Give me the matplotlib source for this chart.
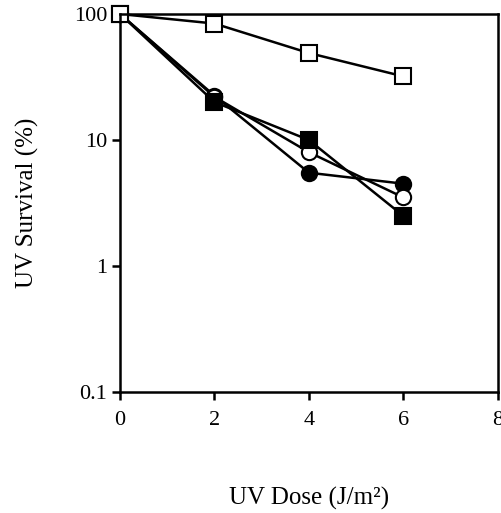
import matplotlib.pyplot as plt

# Данные: доза УФ и выживаемость (%)
dose = [0, 2, 4, 6]
open_sq = [100, 84, 49, 32]
filled_circ = [100, 22.5, 5.5, 4.5]
open_circ = [100, 22, 8, 3.5]
filled_sq = [100, 20, 10, 2.5]

plt.rcParams["font.family"] = ["Liberation Serif", "DejaVu Serif"]

fig = plt.figure(figsize=(5.01, 5.13), dpi=100)
ax = fig.add_axes([0.2395, 0.2359, 0.754, 0.7368])

kw = dict(color="black", lw=1.8, markersize=11, markeredgewidth=1.5,
          markeredgecolor="black")
ax.plot(dose, filled_circ, marker="o", markerfacecolor="black", **kw)
ax.plot(dose, open_circ, marker="o", markerfacecolor="white", **kw)
ax.plot(dose, filled_sq, marker="s", markerfacecolor="black", **kw)
ax.plot(dose, open_sq, marker="s", markerfacecolor="white", **kw)

ax.set_yscale("log")
ax.set_xlim(0, 8)
ax.set_ylim(0.1, 100)
ax.set_xticks([0, 2, 4, 6, 8])
ax.set_xticklabels(["0", "2", "4", "6", "8"])
ax.set_yticks([0.1, 1, 10, 100])
ax.set_yticklabels(["0.1", "1", "10", "100"])
ax.minorticks_off()
ax.tick_params(axis="both", labelsize=16, width=1.8, length=6, direction="out")
ax.tick_params(axis="x", pad=8)
ax.tick_params(axis="y", pad=3)
for s in ax.spines.values():
    s.set_linewidth(1.8)
for p in ax.get_lines():
    p.set_clip_on(False)

ax.set_xlabel("UV Dose (J/m²)", fontsize=18, labelpad=41)
ax.set_ylabel("UV Survival (%)", fontsize=18, labelpad=25)

fig.savefig("out.png", dpi=100)
